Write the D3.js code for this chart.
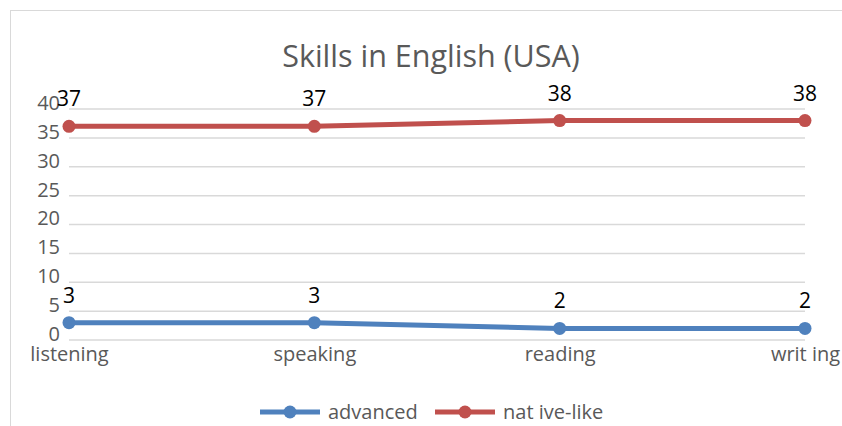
<!DOCTYPE html>
<html><head><meta charset="utf-8">
<script src="https://cdn.jsdelivr.net/npm/d3@7"></script>
<style>body{margin:0;background:#fff;}svg{display:block;font-family:"Open Sans",sans-serif;}</style>
</head><body>
<svg id="c" width="842" height="426"></svg>
<script>
const categories = ["listening", "speaking", "reading", "writ ing"];
const advanced = [3, 3, 2, 2];
const nativeLike = [37, 37, 38, 38];
const seriesNames = ["advanced", "nat ive-like"];
const yTicks = [0, 5, 10, 15, 20, 25, 30, 35, 40];
const title = "Skills in English (USA)";

const colors = ["#4F81BD", "#C0504D"];
const series = [advanced, nativeLike];

const svg = d3.select("#c");
svg.append("rect").attr("x", 10.5).attr("y", 10.5).attr("width", 840).attr("height", 430)
  .attr("fill", "#fff").attr("stroke", "#d9d9d9").attr("stroke-width", 1);

const x = d3.scalePoint().domain(categories).range([69, 805]).padding(0);
const y = d3.scaleLinear().domain([0, 40]).range([340, 109]);

// gridlines
svg.append("g").selectAll("line").data(yTicks).join("line")
  .attr("x1", x.range()[0]).attr("x2", x.range()[1])
  .attr("y1", d => y(d)).attr("y2", d => y(d))
  .attr("stroke", "#d9d9d9").attr("stroke-width", 1.5);

// y axis labels
const yAxis = d3.axisLeft(y).tickValues(yTicks).tickSize(0).tickPadding(0);
const gy = svg.append("g").attr("transform", "translate(60,-6)").call(yAxis);
gy.select(".domain").remove();
gy.selectAll("text").attr("font-size", 20).attr("fill", "#595959").attr("font-family", "Open Sans");

// x axis labels
const xAxis = d3.axisBottom(x).tickSize(0).tickPadding(0);
const gx = svg.append("g").attr("transform", "translate(0,347)").call(xAxis);
gx.select(".domain").remove();
gx.selectAll("text").attr("font-size", 20).attr("fill", "#595959").attr("font-family", "Open Sans").attr("dy", "0.71em");

// title
svg.append("text").attr("x", 431).attr("y", 67).attr("text-anchor", "middle")
  .attr("font-size", 30.5).attr("fill", "#595959").text(title);

const line = d3.line().x((d, i) => x(categories[i])).y(d => y(d));

series.forEach((s, k) => {
  svg.append("path").datum(s).attr("d", line).attr("fill", "none")
    .attr("stroke", colors[k]).attr("stroke-width", 5).attr("stroke-linecap", "round").attr("stroke-linejoin", "round");
  svg.append("g").selectAll("circle").data(s).join("circle")
    .attr("cx", (d, i) => x(categories[i])).attr("cy", d => y(d)).attr("r", 6.5)
    .attr("fill", colors[k]);
  svg.append("g").selectAll("text").data(s).join("text")
    .attr("x", (d, i) => x(categories[i])).attr("y", d => y(d) - 20)
    .attr("text-anchor", "middle").attr("font-size", 21).attr("fill", "#000").text(d => d);
});

// legend
const legend = [
  {name: seriesNames[0], color: colors[0], x0: 260},
  {name: seriesNames[1], color: colors[1], x0: 435}
];
const lg = svg.append("g");
legend.forEach(l => {
  lg.append("line").attr("x1", l.x0).attr("x2", l.x0 + 60).attr("y1", 412).attr("y2", 412)
    .attr("stroke", l.color).attr("stroke-width", 5);
  lg.append("circle").attr("cx", l.x0 + 30).attr("cy", 412).attr("r", 6.5).attr("fill", l.color);
  lg.append("text").attr("x", l.x0 + 68).attr("y", 419).attr("font-size", 20).attr("fill", "#595959").text(l.name);
});
</script>
</body></html>
